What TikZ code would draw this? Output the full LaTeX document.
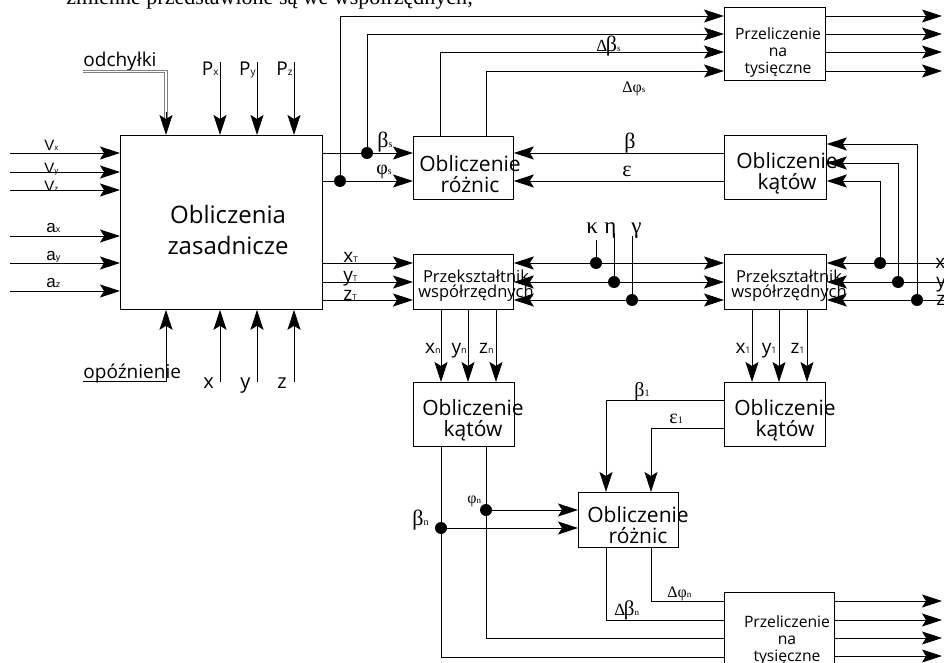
\documentclass[tikz,border=0pt]{standalone}
\usepackage{fontspec}
\setmainfont{Open Sans}
\newfontfamily\gr{Liberation Serif}
\newfontfamily\ar{Liberation Sans}
\usetikzlibrary{arrows.meta}
\newcommand\fs[2]{{\fontsize{#1}{#1}\selectfont #2}}
\begin{document}
\begin{tikzpicture}[x=1pt,y=-1pt,line width=0.8pt,
  box/.style={draw,anchor=north west,inner sep=0pt},
  arr/.style={-{Stealth[length=20pt,width=13pt,inset=4pt]}},
  arrb/.style={{Stealth[length=20pt,width=13pt,inset=4pt]}-{Stealth[length=20pt,width=13pt,inset=4pt]}},
  dot/.style={circle,fill,inner sep=0pt,minimum size=12pt},
  lab/.style={anchor=base west,inner sep=0pt},
  labe/.style={anchor=base east,inner sep=0pt},
  btxt/.style={align=center,inner sep=0pt,font=\fontsize{21}{21}\selectfont},
  ptxt/.style={align=center,inner sep=0pt,font=\fontsize{15.7}{17}\selectfont},
  ktxt/.style={align=center,inner sep=0pt,font=\fontsize{16.5}{15}\selectfont}]
\useasboundingbox (0,0) rectangle (944,663);
\clip (0,0) rectangle (944,663);
\fill[white] (0,0) rectangle (944,663);

% clipped line of text at top
\node[lab,font=\gr\fontsize{22}{22}\selectfont] (toptext) at (66,5) {zmienne przedstawione są we współrzędnych;};

% boxes
\node[box,minimum width=202pt,minimum height=174pt] (main) at (120,135) {};
\node[box,minimum width=100pt,minimum height=63pt] (rozn1) at (413,136) {};
\node[box,minimum width=102pt,minimum height=64pt] (katy1) at (724,135) {};
\node[box,minimum width=101pt,minimum height=73pt] (prz1) at (724,7) {};
\node[box,minimum width=100pt,minimum height=55pt] (przek1) at (413,254) {};
\node[box,minimum width=102pt,minimum height=55pt] (przek2) at (724,254) {};
\node[box,minimum width=101pt,minimum height=64pt] (katy2) at (413,382) {};
\node[box,minimum width=101pt,minimum height=64pt] (katy3) at (724,382) {};
\node[box,minimum width=100pt,minimum height=55pt] (rozn2) at (578,492) {};
\node[box,minimum width=110pt,minimum height=90pt] (prz2) at (724,592) {};

% box texts
\node[align=center,inner sep=0pt,font=\fontsize{24}{31}\selectfont] (tmain) at (228,230) {Obliczenia\\zasadnicze};
\node[btxt] (trozn1) at (470,174) {Obliczenie\\różnic};
\node[btxt] (tkaty1) at (787,173) {Obliczenie\\kątów};
\node[btxt] (tkaty2) at (473,420) {Obliczenie\\kątów};
\node[btxt] (tkaty3) at (785,420) {Obliczenie\\kątów};
\node[btxt] (trozn2) at (638,525) {Obliczenie\\różnic};
\node[ptxt] (tprz1) at (778,52) {Przeliczenie\\na\\tysięczne};
\node[ptxt] (tprz2) at (787,640) {Przeliczenie\\na\\tysięczne};
\node[ktxt] (tprzek1) at (476,286) {Przekształtnik\\współrzędnych};
\node[ktxt] (tprzek2) at (789,286) {Przekształtnik\\współrzędnych};

% left inputs
\foreach \n/\y in {vx/153,vy/172,vz/190,ax/236,ay/263,az/291}{
  \coordinate (\n) at (10,\y);
  \draw[arr] (\n) -- (\n -| main.west);}
\node[lab] (lvx) at (44,151) {\ar\fs{15}{V}\fs{8}{x}};
\node[lab] (lvy) at (44,174) {\ar\fs{15}{V}\fs{8}{y}};
\node[lab] (lvz) at (44,191) {\ar\fs{15}{V}\fs{8}{z}};
\node[lab] (lax) at (46,232) {\ar\fs{17}{a}\fs{9}{x}};
\node[lab] (lay) at (46,260) {\ar\fs{17}{a}\fs{9}{y}};
\node[lab] (laz) at (46,287) {\ar\fs{17}{a}\fs{9}{z}};

% top inputs
\foreach \n/\x in {px/220,py/257,pz/294}{
  \coordinate (\n) at (\x,62);
  \draw[arr] (\n) -- (\n |- main.north);}
\node[labe] (lpx) at (219,76) {\fs{19}{P}\fs{10}{x}};
\node[labe] (lpy) at (256,76) {\fs{19}{P}\fs{10}{y}};
\node[labe] (lpz) at (293,76) {\fs{19}{P}\fs{10}{z}};
\node[lab] (lodch) at (83,67) {\fs{19}{odchyłki}};
\draw[gray,line width=0.6pt] (83,70) -- (167.5,70) -- (167.5,120);
\draw[gray,line width=0.6pt] (83,72.5) -- (164.5,72.5) -- (164.5,120);
\coordinate (od) at (166,112);
\draw[arr] (od) -- (od |- main.north);

% bottom inputs
\foreach \n/\x in {bx/220,by/257,bz/294}{
  \coordinate (\n) at (\x,382);
  \draw[arr] (\n) -- (\n |- main.south);}
\node[lab] (lbx) at (203,388) {\fs{20}{x}};
\node[lab] (lby) at (240,388) {\fs{20}{y}};
\node[lab] (lbz) at (277,388) {\fs{20}{z}};
\node[lab] (lopoz) at (83,378) {\fs{19}{opóźnienie}};
\coordinate (op0) at (83,381);
\coordinate (op) at (166,381);
\draw[arr] (op0) -- (op) -- (op |- main.south);

% main -> rozn1, and to prz1
\coordinate (bs) at (367,153);
\coordinate (fs) at (340,181);
\draw[arr] (main.east |- bs) -- (rozn1.west |- bs);
\draw[arr] (main.east |- fs) -- (rozn1.west |- fs);
\coordinate (c1) at (340,16);
\coordinate (c2) at (367,34);
\coordinate (c3) at (440,52);
\coordinate (c4) at (486,71);
\draw[arr] (fs) -- (c1) -- (c1 -| prz1.west);
\draw[arr] (bs) -- (c2) -- (c2 -| prz1.west);
\draw[arr] (c3 |- rozn1.north) -- (c3) -- (c3 -| prz1.west);
\draw[arr] (c4 |- rozn1.north) -- (c4) -- (c4 -| prz1.west);
\node[dot] (dbs) at (bs) {};
\node[dot] (dfs) at (fs) {};
\foreach \y [count=\i] in {16,34,52,71}{
  \coordinate (o\i) at (942,\y);
  \draw[arr] (prz1.east |- o\i) -- (o\i);}
\node[lab] (lbs) at (377,148) {\gr\fs{22}{β}\fs{10}{s}};
\node[lab] (lfs) at (376,175) {\gr\fs{20}{φ}\fs{10}{s}};
\node[lab] (ldbs) at (596,52) {\gr\fs{17}{Δ}\kern-1.5pt\fs{22}{β}\fs{9}{s}};
\node[lab] (ldfs) at (622,93) {\gr\fs{16}{Δ}\fs{16}{φ}\fs{9}{s}};

% katy1 -> rozn1
\draw[arr] (katy1.west |- bs) -- (rozn1.east |- bs);
\draw[arr] (katy1.west |- fs) -- (rozn1.east |- fs);
\node[lab] (lbeta) at (624,149) {\gr\fs{22}{β}};
\node[lab] (leps) at (622,177) {\gr\fs{22}{ε}};

% right inputs
\coordinate (rx) at (944,263);
\coordinate (ry) at (944,282);
\coordinate (rz) at (944,300);
\draw[arr] (rx) -- (rx -| przek2.east);
\draw[arr] (ry) -- (ry -| przek2.east);
\draw[arr] (rz) -- (rz -| przek2.east);
\coordinate (dx) at (880,263);
\coordinate (dy) at (898,282);
\coordinate (dz) at (917,300);
\coordinate (kx) at (880,181);
\coordinate (ky) at (898,163);
\coordinate (kz) at (917,144);
\draw[arr] (dx) -- (kx) -- (kx -| katy1.east);
\draw[arr] (dy) -- (ky) -- (ky -| katy1.east);
\draw[arr] (dz) -- (kz) -- (kz -| katy1.east);
\node[dot] (ddx) at (dx) {};
\node[dot] (ddy) at (dy) {};
\node[dot] (ddz) at (dz) {};
\node[lab] (lrx) at (935,268) {\fs{19}{x}};
\node[lab] (lry) at (936,287) {\fs{19}{y}};
\node[lab] (lrz) at (936,305) {\fs{19}{z}};

% main -> przek1, przek1 <-> przek2
\coordinate (l1) at (0,263);
\coordinate (l2) at (0,282);
\coordinate (l3) at (0,300);
\foreach \l in {l1,l2,l3}{
  \draw[arr] (main.east |- \l) -- (przek1.west |- \l);
  \draw[arrb] (przek1.east |- \l) -- (przek2.west |- \l);}
\node[lab] (lxt) at (343,262) {\fs{19}{x}\fs{8}{T}};
\node[lab] (lyt) at (343,281) {\fs{19}{y}\fs{8}{T}};
\node[lab] (lzt) at (343,300) {\fs{19}{z}\fs{8}{T}};
\coordinate (kap) at (596,263);
\coordinate (eta) at (614,282);
\coordinate (gam) at (632,300);
\draw (596,240) -- (kap);
\draw (614,233) -- (eta);
\draw (632,236) -- (gam);
\node[dot] (dkap) at (kap) {};
\node[dot] (deta) at (eta) {};
\node[dot] (dgam) at (gam) {};
\node[lab] (lkap) at (586,233) {\gr\fs{23}{κ}};
\node[lab] (leta) at (604,233) {\gr\fs{23}{η}};
\node[lab] (lgam) at (631,233) {\gr\fs{23}{γ}};

% przek1 -> katy2, przek2 -> katy3
\foreach \x in {441,468,496,752,779,807}{
  \coordinate (v\x) at (\x,0);}
\foreach \x in {441,468,496}{
  \draw[arr] (przek1.south -| v\x) -- (katy2.north -| v\x);}
\foreach \x in {752,779,807}{
  \draw[arr] (przek2.south -| v\x) -- (katy3.north -| v\x);}
\node[labe] (lxn) at (441,353) {\fs{19}{x}\fs{9}{n}};
\node[labe] (lyn) at (467,353) {\fs{19}{y}\fs{9}{n}};
\node[labe] (lzn) at (494,353) {\fs{19}{z}\fs{9}{n}};
\node[labe] (lx1) at (751,353) {\fs{19}{x}\fs{9}{1}};
\node[labe] (ly1) at (777,353) {\fs{19}{y}\fs{9}{1}};
\node[labe] (lz1) at (805,353) {\fs{19}{z}\fs{9}{1}};

% katy3 -> rozn2
\coordinate (b1) at (606,400);
\coordinate (e1) at (651,428);
\draw[arr] (katy3.west |- b1) -- (b1) -- (b1 |- rozn2.north);
\draw[arr] (katy3.west |- e1) -- (e1) -- (e1 |- rozn2.north);
\node[lab] (lb1) at (634,396) {\gr\fs{20}{β}\fs{10}{1}};
\node[lab] (le1) at (669,423) {\gr\fs{20}{ε}\fs{10}{1}};

% katy2 -> rozn2, prz2
\coordinate (bn) at (441,528);
\coordinate (fn) at (486,510);
\coordinate (bn2) at (441,657);
\coordinate (fn2) at (486,638);
\draw (katy2.south -| bn) -- (bn2) -- (bn2 -| prz2.west);
\draw (katy2.south -| fn) -- (fn2) -- (fn2 -| prz2.west);
\draw[arr] (bn) -- (bn -| rozn2.west);
\draw[arr] (fn) -- (fn -| rozn2.west);
\node[dot] (dbn) at (bn) {};
\node[dot] (dfn) at (fn) {};
\node[lab] (lbn) at (412,525) {\gr\fs{22}{β}\fs{10}{n}};
\node[lab] (lfn) at (467,503) {\gr\fs{16}{φ}\fs{9}{n}};

% rozn2 -> prz2
\coordinate (g1) at (606,620);
\coordinate (g2) at (651,601);
\draw (rozn2.south -| g1) -- (g1) -- (g1 -| prz2.west);
\draw (rozn2.south -| g2) -- (g2) -- (g2 -| prz2.west);
\node[lab] (ldfn) at (667,597) {\gr\fs{16}{Δ}\fs{16}{φ}\fs{9}{n}};
\node[lab] (ldbn) at (614,615) {\gr\fs{17}{Δ}\kern-1.5pt\fs{21}{β}\fs{9}{n}};
\foreach \y [count=\i] in {601,620,638,656}{
  \coordinate (p\i) at (942,\y);
  \draw[arr] (prz2.east |- p\i) -- (p\i);}
\end{tikzpicture}
\end{document}
